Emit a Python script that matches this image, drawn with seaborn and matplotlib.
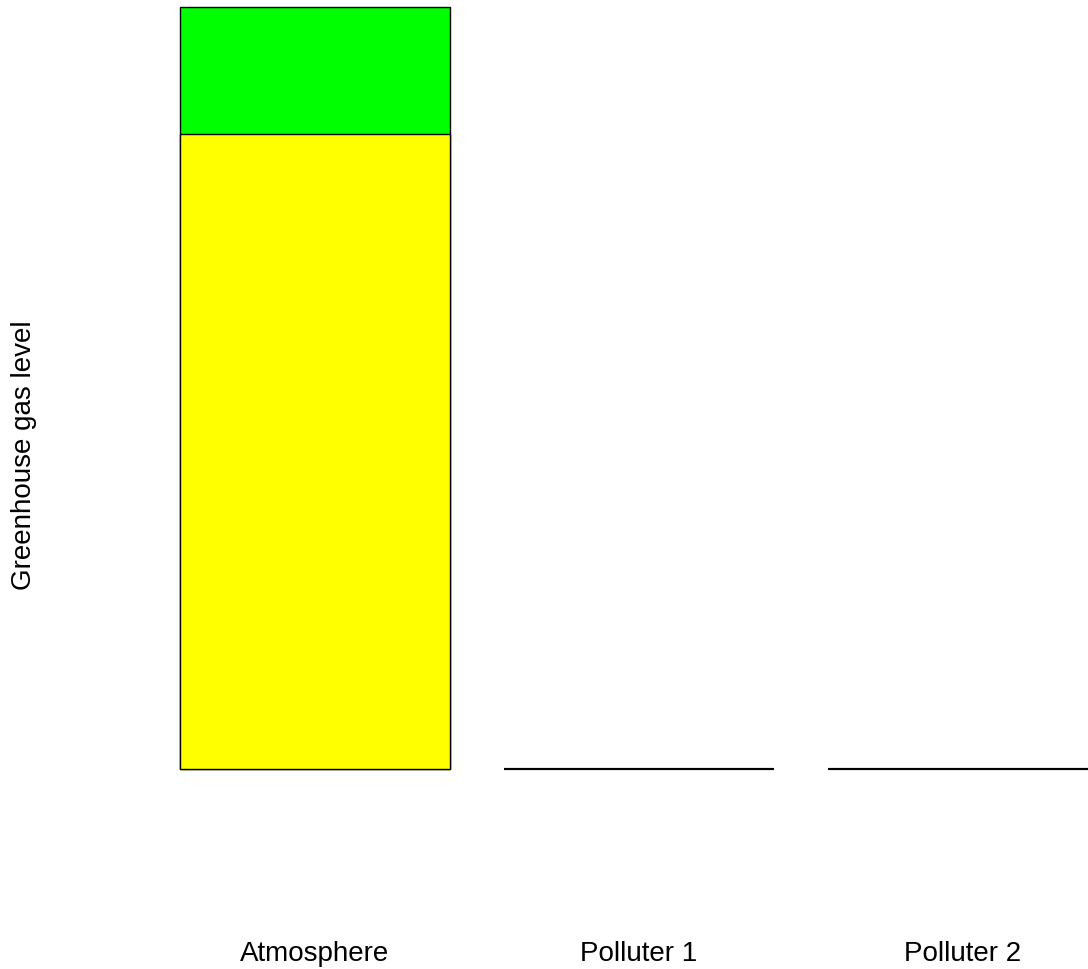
import numpy as np
import pandas as pd
import matplotlib
matplotlib.use('Agg')
import matplotlib.pyplot as plt
import seaborn as sns

# Data
categories = ['Atmosphere', 'Polluter 1', 'Polluter 2']
base_level = [5, 0, 0]      # yellow part
extra_level = [1, 0, 0]     # green part on top

sns.set_style('white')
plt.rcParams['font.family'] = ['Liberation Sans', 'DejaVu Sans']
plt.rcParams['text.color'] = 'black'
plt.rcParams['xtick.color'] = 'black'
plt.rcParams['axes.labelcolor'] = 'black'

df = pd.DataFrame({'category': categories,
                   'base': base_level,
                   'total': np.array(base_level) + np.array(extra_level)})

fig = plt.figure(figsize=(10.88, 9.70), dpi=100)
ax = fig.add_axes([180 / 1088, 200 / 970, 908 / 1088, 762 / 970])

# stacked bar: total in green first, then base in yellow over it
sns.barplot(data=df, x='category', y='total', color='#00ff00', saturation=1,
            width=0.833, edgecolor='black', linewidth=1, ax=ax)
sns.barplot(data=df, x='category', y='base', color='#ffff00', saturation=1,
            width=0.833, edgecolor='black', linewidth=1, ax=ax)

for p in ax.patches:
    p.set_clip_on(False)
    if p.get_height() == 0:
        p.set_linewidth(1.5)

ax.set_xlim(-0.4167, 2.386)
ax.set_ylim(0, 6)
for s in ax.spines.values():
    s.set_visible(False)
ax.set_yticks([])
ax.tick_params(axis='x', length=0, pad=123, labelsize=20, labelcolor='black')
ax.set_xlabel('')
ax.set_ylabel('Greenhouse gas level', fontsize=20, color='black')
ax.yaxis.set_label_coords(-0.158, 0.413)

fig.savefig('out.png', dpi=100)
